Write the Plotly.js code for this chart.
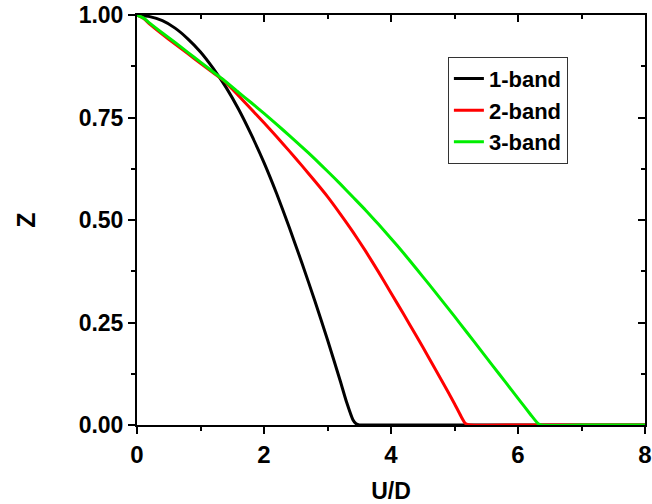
<!DOCTYPE html>
<html>
<head>
<meta charset="utf-8">
<script src="https://cdn.plot.ly/plotly-3.0.1.min.js"></script>
<style>html,body{margin:0;padding:0;background:#fff;}#chart{width:652px;height:504px;}</style>
</head>
<body>
<div id="chart"></div>
<script>
const seriesNames = ["1-band", "2-band", "3-band"];
const seriesColors = ["#000000", "#ff0000", "#00ee00"];

const x1 = [0, 0.2, 0.4, 0.6, 0.8, 1.0, 1.2, 1.4, 1.6, 1.8, 2.0, 2.2, 2.4, 2.6, 2.8, 3.0, 3.2, 3.3, 3.4, 3.45, 3.5, 3.6, 4.0, 5.0, 6.0, 7.0, 8.0];
const z1 = [1.0, 0.996, 0.986, 0.968, 0.942, 0.91, 0.87, 0.824, 0.77, 0.708, 0.64, 0.564, 0.481, 0.394, 0.303, 0.208, 0.108, 0.056, 0.013, 0.003, 0, 0, 0, 0, 0, 0, 0];

const x2 = [0, 0.1, 0.2, 0.4, 0.6, 0.8, 1.0, 1.2, 1.36, 1.6, 1.8, 2.0, 2.2, 2.4, 2.6, 2.8, 3.0, 3.2, 3.4, 3.6, 3.8, 4.0, 4.2, 4.4, 4.6, 4.8, 5.0, 5.1, 5.17, 5.25, 6.0, 7.0, 8.0];
const z2 = [1.0, 0.992, 0.978, 0.953, 0.929, 0.906, 0.882, 0.859, 0.841, 0.803, 0.770, 0.737, 0.703, 0.668, 0.632, 0.595, 0.557, 0.515, 0.471, 0.424, 0.374, 0.322, 0.270, 0.217, 0.163, 0.108, 0.052, 0.022, 0.004, 0, 0, 0, 0];

const x3 = [0, 0.1, 0.2, 0.4, 0.6, 0.8, 1.0, 1.2, 1.36, 1.6, 1.8, 2.0, 2.2, 2.4, 2.6, 2.8, 3.0, 3.2, 3.4, 3.6, 3.8, 4.0, 4.2, 4.4, 4.6, 4.8, 5.0, 5.2, 5.4, 5.6, 5.8, 6.0, 6.2, 6.3, 6.36, 7.0, 8.0];
const z3 = [1.0, 0.993, 0.98, 0.956, 0.933, 0.909, 0.885, 0.861, 0.842, 0.811, 0.786, 0.76, 0.733, 0.706, 0.678, 0.649, 0.619, 0.588, 0.556, 0.524, 0.49, 0.455, 0.419, 0.381, 0.343, 0.304, 0.265, 0.225, 0.185, 0.145, 0.105, 0.065, 0.025, 0.006, 0, 0, 0];

const xRange = [0, 8];
const yRange = [0, 1];
const xTickVals = [0, 2, 4, 6, 8];
const xTickText = ["0", "2", "4", "6", "8"];
const yTickVals = [0, 0.25, 0.5, 0.75, 1.0];
const yTickText = ["0.00", "0.25", "0.50", "0.75", "1.00"];

const xs = [x1, x2, x3];
const zs = [z1, z2, z3];
const traces = xs.map((x, i) => ({
  x: x, y: zs[i], type: "scatter", mode: "lines", name: "<b>" + seriesNames[i] + "</b>",
  line: {color: seriesColors[i], width: 3, shape: "spline", smoothing: 0.5},
  hoverinfo: "skip"
}));
// invisible trace to activate mirror axes (top/right inward ticks)
traces.push({x: x1, y: z1, xaxis: "x2", yaxis: "y2", type: "scatter", mode: "lines",
  line: {color: "rgba(0,0,0,0)", width: 0}, showlegend: false, hoverinfo: "skip"});

const fontFam = "Liberation Sans, Arial, sans-serif";
const layout = {
  width: 652, height: 504,
  margin: {l: 137, r: 7, t: 15, b: 79},
  paper_bgcolor: "#ffffff", plot_bgcolor: "#ffffff",
  showlegend: true,
  legend: {
    x: 0.612, y: 0.898, xanchor: "left", yanchor: "top",
    bgcolor: "#ffffff", bordercolor: "#333333", borderwidth: 1,
    font: {family: fontFam, size: 22, color: "#000"},
    itemwidth: 30, tracegroupgap: 0
  },
  xaxis: {
    range: xRange, tickvals: xTickVals, ticktext: xTickText,
    ticks: "outside", ticklen: 7, tickwidth: 2, tickcolor: "#000",
    minor: {dtick: 1, tick0: 0, ticks: "outside", ticklen: 4, tickwidth: 2, tickcolor: "#000", showgrid: false},
    showline: true, linewidth: 2, linecolor: "#000", mirror: true,
    showgrid: false, zeroline: false,
    tickfont: {family: fontFam, size: 24, color: "#000", weight: "bold"},
    title: {text: "<b>U/D</b>", font: {family: fontFam, size: 23, color: "#000"}, standoff: 24}
  },
  yaxis: {
    range: yRange, tickvals: yTickVals, ticktext: yTickText,
    ticks: "outside", ticklen: 7, tickwidth: 2, tickcolor: "#000",
    minor: {dtick: 0.125, tick0: 0, ticks: "outside", ticklen: 4, tickwidth: 2, tickcolor: "#000", showgrid: false},
    showline: true, linewidth: 2, linecolor: "#000", mirror: true,
    showgrid: false, zeroline: false,
    tickfont: {family: fontFam, size: 23, color: "#000", weight: "bold"},
    title: {text: "<b>Z</b>", font: {family: fontFam, size: 25, color: "#000"}, standoff: 36}
  },
  xaxis2: {
    overlaying: "x", side: "top", range: xRange, tickvals: xTickVals,
    ticks: "inside", ticklen: 7, tickwidth: 2, tickcolor: "#000",
    minor: {dtick: 1, tick0: 0, ticks: "inside", ticklen: 4, tickwidth: 2, tickcolor: "#000", showgrid: false},
    showticklabels: false, showline: false, showgrid: false, zeroline: false
  },
  yaxis2: {
    overlaying: "y", side: "right", range: yRange, tickvals: yTickVals,
    ticks: "inside", ticklen: 7, tickwidth: 2, tickcolor: "#000",
    minor: {dtick: 0.125, tick0: 0, ticks: "inside", ticklen: 4, tickwidth: 2, tickcolor: "#000", showgrid: false},
    showticklabels: false, showline: false, showgrid: false, zeroline: false
  }
};
Plotly.newPlot("chart", traces, layout, {displayModeBar: false, staticPlot: true});
</script>
</body>
</html>
